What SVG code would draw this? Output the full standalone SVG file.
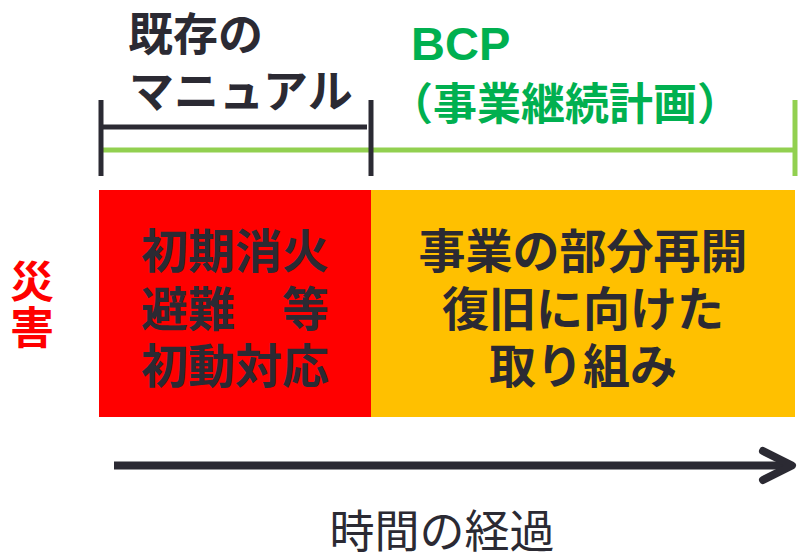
<svg xmlns="http://www.w3.org/2000/svg" width="798" height="555" viewBox="0 0 798 555">
<defs>
<style>
.jp{font-family:"Noto Sans CJK JP","Noto Sans CJK SC",sans-serif;}
.b{font-weight:bold;}
.dark{fill:#2B2A33;}
.mid{text-anchor:middle;dominant-baseline:central;}
.blk{stroke:#2B2A33;stroke-width:5;fill:none;}
.grn{stroke:#92D050;stroke-width:5;fill:none;}
</style>
</defs>
<rect width="798" height="555" fill="#FFFFFF"/>
<g id="manual-label">
<text class="jp b dark" x="128" y="31" font-size="45" dominant-baseline="central">既存の</text>
<text class="jp b dark" x="129" y="88" font-size="45" dominant-baseline="central">マニュアル</text>
</g>
<g id="bcp-label">
<text x="411" y="60" font-family="Liberation Sans, Arial, sans-serif" font-weight="bold" font-size="47" fill="#00B050">BCP</text>
<text class="jp b" x="389" y="101" font-size="44" fill="#00B050" dominant-baseline="central">（事業継続計画）</text>
</g>
<g id="connectors">
<line class="grn" x1="103" y1="150" x2="797" y2="150"/>
<line class="grn" x1="795" y1="100" x2="795" y2="176"/>
<line class="blk" x1="101" y1="100" x2="101" y2="176"/>
<line class="blk" x1="101" y1="127" x2="367" y2="127"/>
<line class="blk" x1="371" y1="100" x2="371" y2="176"/>
<g id="time-arrow">
<line x1="114" y1="465.5" x2="790" y2="465.5" stroke="#2B2A33" stroke-width="8"/>
<polyline points="763,451 792,465.5 763,480" fill="none" stroke="#2B2A33" stroke-width="8" stroke-linecap="round" stroke-linejoin="round"/>
</g>
</g>
<g id="disaster-label">
<text class="jp b mid" x="32" y="279" font-size="44" fill="#FF0000">災</text>
<text class="jp b mid" x="32" y="325" font-size="44" fill="#FF0000">害</text>
</g>
<g id="initial-response">
<rect x="99" y="190" width="272" height="227" fill="#FF0000"/>
<text class="jp b dark mid" x="235" y="247" font-size="47">初期消火</text>
<text class="jp b dark mid" x="235" y="305" font-size="47">避難　等</text>
<text class="jp b dark mid" x="235" y="362" font-size="47">初動対応</text>
</g>
<g id="bcp-response">
<rect x="371" y="190" width="424" height="227" fill="#FFC000"/>
<text class="jp b dark mid" x="583" y="247" font-size="47">事業の部分再開</text>
<text class="jp b dark mid" x="583" y="305" font-size="47">復旧に向けた</text>
<text class="jp b dark mid" x="583" y="362" font-size="47">取り組み</text>
</g>
<g id="time-label">
<text class="jp dark mid" x="442" y="528" font-size="45">時間の経過</text>
</g>
</svg>
